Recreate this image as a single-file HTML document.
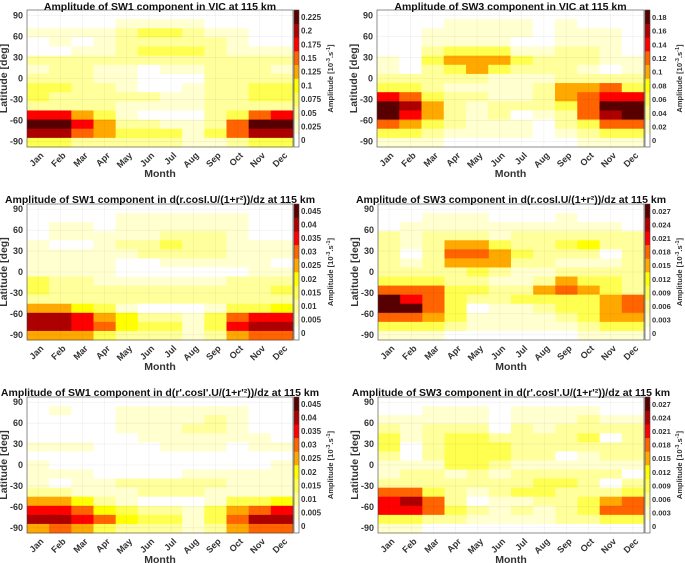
<!DOCTYPE html>
<html><head><meta charset="utf-8"><style>
html,body{margin:0;padding:0;background:#fff;}
svg{display:block;font-family:"Liberation Sans",sans-serif;}
</style></head><body>
<svg id="fig" width="685" height="563" viewBox="0 0 685 563" xmlns="http://www.w3.org/2000/svg"></svg>
<script>
const months = ["Jan","Feb","Mar","Apr","May","Jun","Jul","Aug","Sep","Oct","Nov","Dec"];
const latTicks = [90,60,30,0,-30,-60,-90];
const palette = ['#ffffff','#ffffcf','#ffff9c','#ffff50','#ffff00','#ffa800','#ff6400','#ff0000','#ad0000','#580000'];

// level data (colour-bin index), rows from north (top) to south (bottom), 12 months each
const sw1Vic = [
[0,0,0,0,0,0,0,0,0,0,0,0],[0,0,0,0,1,1,1,1,0,0,0,0],[1,1,1,1,2,3,3,2,1,1,0,0],
[0,1,0,1,2,2,2,2,2,1,0,0],[0,0,1,1,2,3,3,3,2,1,1,1],[2,2,2,2,2,2,2,2,2,2,2,2],
[1,2,2,1,1,0,1,1,2,2,2,1],[2,2,2,1,1,0,0,0,2,2,2,2],[3,3,2,2,1,0,0,1,2,2,3,3],
[3,2,2,2,2,2,1,1,2,2,3,3],[2,2,2,2,1,1,1,1,2,2,2,2],[7,7,5,3,1,0,0,0,2,3,6,7],
[9,9,7,5,2,2,1,1,2,6,9,9],[8,8,6,5,3,3,3,1,3,6,8,8],[3,3,2,2,2,2,2,1,1,2,3,3]];
const sw3Vic = [
[0,0,0,0,0,0,0,0,0,0,0,0],[0,0,0,1,1,1,1,0,1,0,0,0],[0,0,1,1,1,1,1,0,1,1,1,0],
[0,0,1,1,1,1,0,0,1,1,1,0],[0,0,2,3,3,3,1,1,2,2,1,0],[1,0,3,5,5,5,3,2,2,2,1,1],
[1,0,2,3,5,3,2,2,2,1,0,1],[2,2,2,2,2,1,1,1,2,2,2,2],[3,3,2,1,1,1,1,2,5,5,6,3],
[7,6,3,2,2,1,1,2,5,6,7,7],[9,8,5,2,1,2,2,2,3,6,9,9],[9,7,5,2,1,2,0,1,2,6,8,9],
[6,5,3,2,1,1,1,0,2,3,6,6],[3,3,2,1,1,1,1,0,1,2,3,3],[1,1,1,0,0,0,0,0,0,1,1,1]];
const sw1Dr = [
[0,0,0,0,0,0,0,0,0,0,0,0],[0,0,0,0,1,1,1,1,1,1,0,0],[0,1,1,0,1,1,1,1,1,1,0,0],
[0,1,1,1,1,1,2,2,2,1,0,0],[1,0,0,1,2,2,3,2,2,1,1,1],[1,1,1,1,1,2,2,2,2,1,1,1],
[1,1,1,1,0,0,1,1,1,1,1,0],[1,1,1,1,0,0,0,0,0,0,1,1],[3,2,2,1,1,1,1,1,1,2,2,2],
[3,2,2,2,2,2,2,2,2,2,2,3],[2,2,2,2,2,2,2,2,2,2,2,2],[5,5,4,3,1,0,0,0,1,3,3,4],
[8,8,7,5,4,2,2,1,3,6,7,7],[8,8,7,6,4,3,3,1,3,7,8,8],[5,5,5,3,2,2,2,1,2,5,6,6]];
const sw3Dr = [
[0,0,0,0,0,0,0,0,0,0,0,0],[0,0,1,1,1,0,0,0,1,0,0,0],[0,1,1,1,1,1,1,1,1,1,1,0],
[2,1,2,2,2,1,2,2,2,2,2,2],[2,1,2,5,5,3,2,2,3,4,2,2],[2,0,2,6,6,5,3,2,2,2,0,2],
[2,1,2,5,5,5,2,2,1,1,1,2],[2,2,2,2,3,2,1,1,2,2,2,2],[3,3,3,2,2,1,1,2,5,3,3,2],
[6,6,6,3,3,2,2,5,6,5,3,2],[9,7,6,3,2,2,3,3,3,3,5,6],[9,9,6,3,0,1,1,2,3,3,5,6],
[6,6,5,3,1,1,1,1,2,3,5,5],[3,3,3,2,1,1,1,1,1,2,3,3],[1,1,1,0,0,0,0,0,0,1,1,1]];
const sw1Drp = [
[0,0,0,0,0,0,0,0,0,0,0,0],[0,1,0,0,1,1,1,1,1,1,0,0],[0,0,0,0,1,1,1,1,2,1,0,0],
[0,0,0,0,1,1,1,2,2,1,0,0],[0,0,0,0,0,1,1,1,1,1,1,0],[1,1,1,0,0,0,1,1,1,0,1,1],
[0,0,0,0,0,0,0,0,0,0,0,0],[1,0,0,0,0,0,0,0,0,0,0,1],[1,1,1,0,0,0,0,1,1,1,1,1],
[1,0,1,1,2,2,2,2,2,1,1,1],[2,2,1,1,1,2,2,2,1,1,1,1],[5,5,4,2,1,0,0,0,1,3,3,4],
[7,7,6,4,3,2,2,1,3,5,6,7],[8,8,7,6,4,3,3,1,3,6,8,8],[5,6,5,3,2,2,2,1,2,5,6,6]];
const sw3Drp = [
[0,0,0,0,0,0,0,0,0,0,0,0],[0,0,1,1,1,0,1,1,1,1,0,0],[1,1,1,1,1,0,1,1,1,2,1,1],
[2,1,2,2,2,0,2,1,2,2,2,2],[3,1,2,3,3,2,2,2,2,3,0,2],[3,0,2,3,3,3,2,2,2,2,2,2],
[2,0,2,3,3,3,2,2,0,1,2,2],[1,1,1,3,3,2,1,1,1,1,1,1],[1,2,2,1,2,1,2,2,2,2,2,0],
[2,2,2,2,2,2,2,3,3,2,0,2],[6,6,3,2,1,2,3,3,2,2,2,3],[7,8,6,2,0,1,1,2,2,3,5,6],
[7,7,6,3,2,1,2,1,2,3,6,6],[3,3,2,2,1,1,1,1,2,2,3,3],[1,1,0,0,0,0,0,0,0,0,0,0]];

const cbTicks1 = ["0","0.025","0.05","0.075","0.1","0.125","0.15","0.175","0.2","0.225"];
const cbTicks2 = ["0","0.02","0.04","0.06","0.08","0.1","0.12","0.14","0.16","0.18"];
const cbTicks3 = ["0","0.005","0.01","0.015","0.02","0.025","0.03","0.035","0.04","0.045"];
const cbTicks4 = ["0","0.003","0.006","0.009","0.012","0.015","0.018","0.021","0.024","0.027"];

const panels = [
 {name:'sw1-vic',title:'Amplitude of SW1 component in VIC at 115 km',data:sw1Vic,ticks:cbTicks1,x0:27,x1:293,y0:10,y1:147,ty:6,cbx:294,cbl:330,tf:8},
 {name:'sw3-vic',title:'Amplitude of SW3 component in VIC at 115 km',data:sw3Vic,ticks:cbTicks2,x0:377,x1:644,y0:10,y1:147,ty:6,cbx:645,cbl:679,tf:7.5},
 {name:'sw1-dr',title:'Amplitude of SW1 component in d(r.cosI.U/(1+r²))/dz at 115 km',data:sw1Dr,ticks:cbTicks3,x0:27,x1:293,y0:204,y1:340,ty:199,cbx:294,cbl:330,tf:8},
 {name:'sw3-dr',title:'Amplitude of SW3 component in d(r.cosI.U/(1+r²))/dz at 115 km',data:sw3Dr,ticks:cbTicks4,x0:378,x1:644,y0:204,y1:340,ty:199,cbx:645,cbl:679,tf:7.5},
 {name:'sw1-drp',title:"Amplitude of SW1 component in d(r'.cosI'.U/(1+r'²))/dz at 115 km",data:sw1Drp,ticks:cbTicks3,x0:27,x1:293,y0:397,y1:533,ty:392,cbx:294,cbl:330,tf:8},
 {name:'sw3-drp',title:"Amplitude of SW3 component in d(r'.cosI'.U/(1+r'²))/dz at 115 km",data:sw3Drp,ticks:cbTicks4,x0:378,x1:644,y0:397,y1:533,ty:392,cbx:645,cbl:679,tf:7.5}
];
const NS='http://www.w3.org/2000/svg';
const svg=document.getElementById('fig');
function mk(tag,attrs,parent){const e=document.createElementNS(NS,tag);for(const k in attrs)e.setAttribute(k,attrs[k]);(parent||svg).appendChild(e);return e;}

panels.forEach(p=>{
  const g=mk('g',{});
  
  
  const nR=p.data.length, nC=months.length;
  const cw=(p.x1-p.x0)/nC, rh=(p.y1-p.y0)/nR;
  const latTop=97.5, latBot=-97.5;
  const yScale=lat=>p.y0+(latTop-lat)/(latTop-latBot)*(p.y1-p.y0);
  const xScale=i=>p.x0+i*cw;
  p.data.forEach((row,r)=>row.forEach((v,c)=>{
    const lv=Math.max(0,Math.min(9,Math.round(v)));
    const cell=mk('rect',{x:xScale(c),y:p.y0+r*rh,width:cw+0.4,height:rh+0.4,fill:palette[lv]},g);
    
    
  }));
  latTicks.forEach(t=>{mk('line',{x1:p.x0,x2:p.x1,y1:yScale(t),y2:yScale(t),stroke:'#000','stroke-opacity':0.07,'stroke-width':0.6},g);});
  months.forEach((m,i)=>{const x=xScale(i)+cw/2;mk('line',{x1:x,x2:x,y1:p.y0,y2:p.y1,stroke:'#000','stroke-opacity':0.07,'stroke-width':0.6},g);});
  const fr=mk('rect',{x:p.x0,y:p.y0,width:p.x1-p.x0,height:p.y1-p.y0,fill:'none',stroke:'#444','stroke-width':0.6},g);
  
  
  const t=mk('text',{x:(p.x0+p.x1)/2,y:p.ty+4,'text-anchor':'middle','font-size':10.5,'font-weight':'bold',fill:'#111'},g);
  t.textContent=p.title;
  
  
  latTicks.forEach(v=>{
    const e=mk('text',{x:p.x0-4,y:yScale(v)+3,'text-anchor':'end','font-size':9,'font-weight':'bold',fill:'#333'},g);
    e.textContent=v;
    
    
  });
  const yl=mk('text',{x:0,y:0,transform:`translate(${p.x0-20},${(p.y0+p.y1)/2}) rotate(-90)`,'text-anchor':'middle','font-size':10.5,'font-weight':'bold',fill:'#333'},g);
  yl.textContent='Latitude [deg]';
  
  
  months.forEach((m,i)=>{
    const x=xScale(i)+cw/2;
    const e=mk('text',{x:0,y:0,transform:`translate(${x+6},${p.y1+9}) rotate(-45)`,'text-anchor':'end','font-size':9,'font-weight':'bold',fill:'#333'},g);
    e.textContent=m;
    
    
  });
  const xl=mk('text',{x:(p.x0+p.x1)/2,y:p.y1+30,'text-anchor':'middle','font-size':10.5,'font-weight':'bold',fill:'#333'},g);
  xl.textContent='Month';
  
  
  const nB=p.ticks.length, bh=(p.y1-p.y0)/nB;
  palette.forEach((col,i)=>{
    const b=mk('rect',{x:p.cbx,y:p.y1-(i+1)*bh,width:5,height:bh+0.3,fill:col},g);
    
    
  });
  mk('rect',{x:p.cbx,y:p.y0,width:5,height:p.y1-p.y0,fill:'none',stroke:'#444','stroke-width':0.6},g);
  p.ticks.forEach((lab,i)=>{
    const e=mk('text',{x:p.cbx+7,y:p.y1-(i+0.5)*bh+3,'font-size':p.tf,'font-weight':'bold',fill:'#333'},g);
    e.textContent=lab;
    
    
  });
  const cl=mk('text',{x:0,y:0,transform:`translate(${p.cbl+3},${(p.y0+p.y1)/2}) rotate(-90)`,'text-anchor':'middle','font-size':7.5,'font-weight':'bold',fill:'#333'},g);
  cl.innerHTML='Amplitude [10<tspan dy="-3" font-size="5.5">-3</tspan><tspan dy="3">.s</tspan><tspan dy="-3" font-size="5.5">-1</tspan><tspan dy="3">]</tspan>';
  
  
});
</script>
</body></html>
